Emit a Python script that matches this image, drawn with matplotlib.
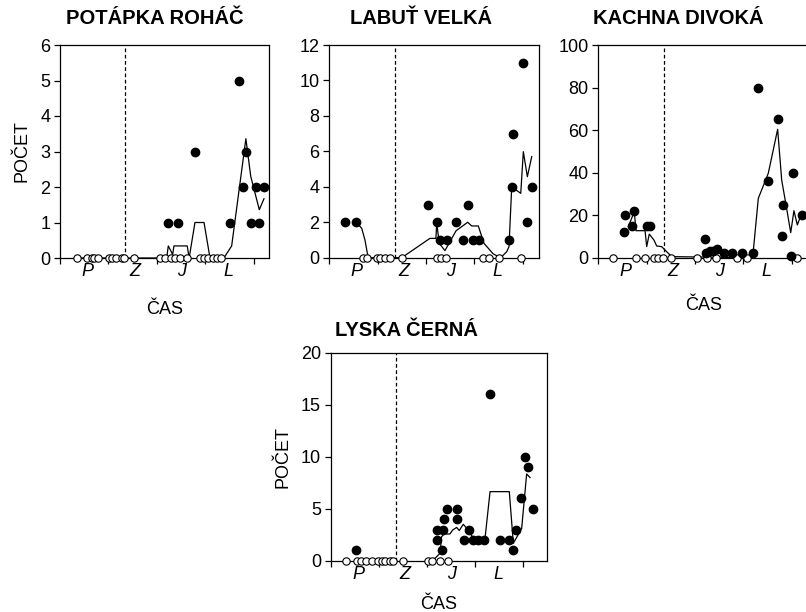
import matplotlib
matplotlib.use("Agg")
import matplotlib.pyplot as plt
from matplotlib.ticker import FixedLocator

plt.rcParams['font.family'] = ['Liberation Sans', 'DejaVu Sans']

# x = months from start of sampling (season boundaries every 3 months)
season_labels = ['P', 'Z', 'J', 'L']
season_pos = [1.7, 4.65, 7.5, 10.45]
winter_start = 4.05

# POTAPKA ROHAC
p1_open_x = [1.03, 1.69, 1.96, 2.12, 2.33, 3.05, 3.23, 3.46, 3.81, 3.97, 4.58,
             6.18, 6.49, 6.85, 7.11, 7.42, 7.87, 8.66, 8.91, 9.17, 9.44, 9.69, 9.96]
p1_fill_x = [6.70, 7.32, 8.35, 10.51, 11.09, 11.34, 11.50, 11.80, 12.12, 12.33, 12.62]
p1_fill_y = [1, 1, 3, 1, 5, 2, 3, 1, 2, 1, 2]
p1_line_x = [1.03, 6.60, 6.70, 6.97, 7.05, 7.87, 7.99, 8.35, 8.91, 9.28, 10.14,
             10.62, 11.50, 11.80, 12.33, 12.62]
p1_line_y = [0, 0, 0.34, 0.1, 0.34, 0.34, 0, 1.0, 1.0, 0, 0,
             0.34, 3.36, 2.3, 1.36, 1.67]

# LABUT VELKA
p2_open_x = [2.11, 2.32, 2.94, 3.14, 3.45, 3.76, 4.49, 6.66, 6.92, 7.23,
             9.55, 9.92, 10.54, 11.87]
p2_fill_x = [0.97, 1.66, 6.14, 6.66, 6.86, 7.32, 7.86, 8.58, 8.31, 8.89, 9.30,
             11.14, 11.31, 11.41, 12.03, 12.27, 12.55]
p2_fill_y = [2, 2, 3, 2, 1, 1, 2, 3, 1, 1, 1, 1, 4, 7, 11, 2, 4]
p2_line_x = [1.66, 2.01, 2.21, 2.38, 2.42, 4.49, 6.24, 6.61, 6.66, 6.82, 7.17,
             7.86, 8.58, 8.83, 9.24, 9.59, 10.17, 10.63, 11.0, 11.14, 11.31,
             11.87, 12.03, 12.28, 12.55]
p2_line_y = [2.0, 1.66, 1.0, 0.15, 0, 0, 1.09, 1.09, 1.94, 0.81, 0.40,
             1.52, 2.0, 1.79, 1.79, 0.81, 0.21, 0, 0.34, 0.62, 4.0,
             3.63, 5.98, 4.57, 5.7]

# KACHNA DIVOKA
p3_open_x = [0.93, 2.32, 2.90, 3.45, 3.72, 3.99, 4.51, 6.10, 6.76, 7.30,
             8.58, 9.20, 12.34]
p3_fill_x = [1.59, 1.66, 2.07, 2.23, 3.0, 3.2, 6.62, 6.68, 6.92, 7.13, 7.34,
             7.79, 8.31, 8.89, 9.61, 9.92, 10.54, 11.12, 11.37, 11.47, 11.93,
             12.09, 12.61]
p3_fill_y = [12, 20, 15, 22, 15, 15, 9, 2, 3, 3, 4, 2, 2, 2, 2, 80, 36, 65,
             10, 25, 1, 40, 20]
p3_line_x = [1.86, 2.23, 2.34, 2.90, 3.0, 3.16, 3.45, 3.62, 3.93, 4.24, 4.55,
             9.57, 9.92, 10.54, 11.12, 11.37, 11.64, 11.93, 12.13, 12.34, 12.61]
p3_line_y = [14.6, 21.6, 12.7, 12.7, 5.2, 11.1, 8.3, 5.5, 5.2, 2.8, 0.5,
             0, 27.9, 39.7, 60.4, 36.5, 24.8, 11.8, 22.1, 15.4, 20.9]

# LYSKA CERNA
p4_open_x = [0.93, 1.62, 1.89, 2.18, 2.55, 2.97, 3.18, 3.38, 3.69, 3.90, 4.49,
             6.08, 6.33, 6.81, 7.33]
p4_fill_x = [1.58, 6.64, 6.64, 6.92, 6.98, 7.06, 7.27, 7.85, 7.85, 8.31, 8.64,
             8.85, 9.20, 9.55, 9.93, 10.55, 11.13, 11.38, 11.55, 11.84, 12.11,
             12.31, 12.58]
p4_fill_y = [1, 2, 3, 1, 3, 4, 5, 5, 4, 2, 3, 2, 2, 2, 16, 2, 2, 1, 3, 6, 10, 9, 5]
p4_line_x = [5.94, 6.50, 6.81, 6.91, 7.06, 7.43, 7.60, 7.85, 8.01, 8.26, 8.57,
             8.93, 9.61, 9.93, 11.13, 11.38, 11.90, 12.21, 12.42]
p4_line_y = [0, 0.23, 0.71, 2.3, 2.57, 2.57, 2.95, 3.2, 2.9, 3.5, 2.95,
             2.06, 2.06, 6.64, 6.64, 1.67, 3.1, 8.34, 8.0]

W, H = 806, 612
fig = plt.figure(figsize=(W / 100, H / 100), dpi=100)


def box(l, r, t, b):
    return [l / W, 1 - b / H, (r - l) / W, (b - t) / H]


def panel(rect, xmax, ymax, ystep, ox, fx, fy, lx, ly):
    ax = fig.add_axes(rect)
    ax.plot(lx, ly, color='black', lw=0.9, clip_on=False, zorder=2)
    ax.axvline(winter_start, color='black', lw=0.9, ls=(0, (3, 2)), zorder=1)
    ax.plot(ox, [0] * len(ox), 'o', ms=5.3, mfc='white', mec='black', mew=0.8,
            ls='none', clip_on=False, zorder=3)
    ax.plot(fx, fy, 'o', ms=6, color='black', ls='none', clip_on=False, zorder=4)
    ax.set_xlim(0, xmax)
    ax.set_ylim(0, ymax)
    ax.set_yticks(range(0, ymax + 1, ystep))
    ax.set_xticks([0, 3, 6, 9, 12])
    ax.set_xticklabels([])
    ax.xaxis.set_minor_locator(FixedLocator(season_pos))
    ax.set_xticklabels(season_labels, minor=True, fontstyle='italic', fontsize=13)
    ax.tick_params(axis='x', which='minor', length=0, pad=3.5)
    ax.tick_params(axis='x', which='major', length=4, width=0.9)
    ax.tick_params(axis='y', length=4, width=0.9, labelsize=13, pad=3)
    for s in ax.spines.values():
        s.set_linewidth(0.9)
    return ax


ax1 = panel(box(60, 269, 45, 258), 12.93, 6, 1, p1_open_x, p1_fill_x, p1_fill_y,
            p1_line_x, p1_line_y)
ax2 = panel(box(329.3, 539.3, 45, 257.7), 13.02, 12, 2, p2_open_x, p2_fill_x,
            p2_fill_y, p2_line_x, p2_line_y)
ax3 = panel(box(598.3, 808.3, 45, 257.7), 13.02, 100, 20, p3_open_x, p3_fill_x,
            p3_fill_y, p3_line_x, p3_line_y)
ax4 = panel(box(330.7, 546.7, 352.7, 560.7), 13.46, 20, 5, p4_open_x, p4_fill_x,
            p4_fill_y, p4_line_x, p4_line_y)

ax1.set_ylabel('POČET', fontsize=13, labelpad=7)
ax4.set_ylabel('POČET', fontsize=13, labelpad=7)
ax1.set_xlabel('ČAS', fontsize=13, labelpad=15.5)
ax3.set_xlabel('ČAS', fontsize=13, labelpad=12.5)
ax4.set_xlabel('ČAS', fontsize=13, labelpad=9.5)

titles = [('POTÁPKA ROHÁČ', 155, 18), ('LABUŤ VELKÁ', 421, 18),
          ('KACHNA DIVOKÁ', 678, 18), ('LYSKA ČERNÁ', 406, 331)]
for t, x, y in titles:
    fig.text(x / W, 1 - y / H, t, ha='center', va='center', fontsize=14.5,
             fontweight='bold')

fig.savefig('out.png', dpi=100)
